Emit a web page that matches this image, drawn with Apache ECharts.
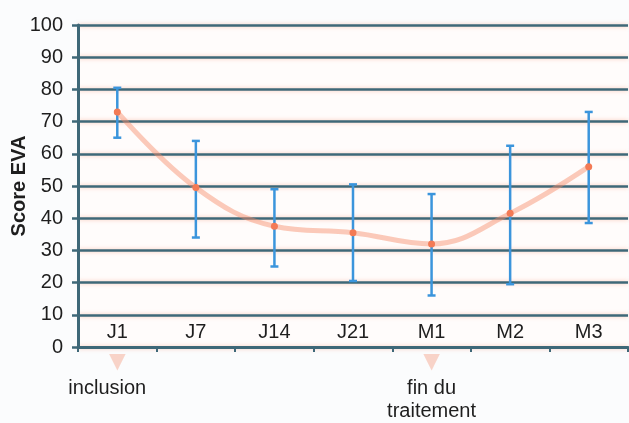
<!DOCTYPE html>
<html>
<head>
<meta charset="utf-8">
<script src="https://cdn.jsdelivr.net/npm/echarts@6/dist/echarts.min.js"></script>
<style>
  html, body { margin: 0; padding: 0; background: #fbfcfd; }
  #chart { width: 629px; height: 423px; }
</style>
</head>
<body>
<div id="chart"></div>
<script>
// valeurs
const categories = ['J1', 'J7', 'J14', 'J21', 'M1', 'M2', 'M3'];
const means = [73, 49.5, 37.5, 35.5, 32, 41.5, 56];
const lows = [65, 34, 25, 20.5, 16, 19.5, 38.5];
const highs = [80.5, 64, 49, 50.5, 47.5, 62.5, 73];
const milestones = ['inclusion', '', '', '', 'fin du\ntraitement', '', ''];

const chart = echarts.init(document.getElementById('chart'));

// barres d'erreur (low/high)
const errData = categories.map((c, i) => [i, lows[i], highs[i]]);

const txt = { fontFamily: 'Liberation Sans', fontSize: 20, color: '#1e1e1e' };

const option = {
  backgroundColor: '#fbfcfd',
  animation: false,
  grid: {
    left: 78, right: 1, top: 25, bottom: 76,
    containLabel: false, outerBoundsMode: 'none',
    show: true, backgroundColor: '#fffcfb', borderWidth: 0
  },
  xAxis: [
    {
      type: 'category',
      data: categories,
      boundaryGap: true,
      axisLine: { lineStyle: { color: '#3e6878', width: 3 } },
      axisTick: { show: true, length: 5, lineStyle: { color: '#3e6878', width: 2 } },
      axisLabel: Object.assign({ inside: true, margin: 5 }, txt),
      splitLine: { show: false }
    },
    {
      type: 'category',
      data: milestones,
      position: 'bottom',
      axisLine: { show: false },
      axisTick: { show: false },
      axisLabel: {
        interval: 0, margin: 0,
        formatter: (v, i) => {
          if (!v) return '';
          const st = i === 0 ? 'ti' : 't';
          return '{arr|▼}\n' + v.split('\n').map(s => '{' + st + '|' + s + '}').join('\n');
        },
        rich: {
          arr: { fontSize: 28, color: 'rgba(246,150,120,0.4)', lineHeight: 30 },
          t: Object.assign({ lineHeight: 23 }, txt),
          ti: Object.assign({ lineHeight: 23, padding: [0, 20, 0, 0] }, txt)
        }
      }
    }
  ],
  yAxis: {
    type: 'value',
    min: 0, max: 100, interval: 10,
    name: 'Score EVA',
    nameLocation: 'middle',
    nameGap: 49,
    nameMoveOverlap: false,
    nameTextStyle: { fontFamily: 'Liberation Sans', fontSize: 20, fontWeight: 'bold', color: '#1e1e1e' },
    axisLine: { show: true, lineStyle: { color: '#3e6878', width: 3 } },
    axisTick: { show: true, length: 6, lineStyle: { color: '#3e6878', width: 2.5 } },
    axisLabel: Object.assign({ margin: 15 }, txt),
    splitLine: {
      lineStyle: {
        color: '#3e6878', width: 2.5,
        shadowColor: 'rgba(248,150,115,0.5)', shadowBlur: 4
      }
    }
  },
  series: [
    {
      type: 'custom',
      data: errData,
      z: 3,
      renderItem: (params, api) => {
        const x = api.value(0);
        const lo = api.coord([x, api.value(1)]);
        const hi = api.coord([x, api.value(2)]);
        const cap = 4;
        const style = { stroke: '#3b95dc', lineWidth: 2.5 };
        return {
          type: 'group',
          children: [
            { type: 'line', shape: { x1: lo[0], y1: lo[1], x2: hi[0], y2: hi[1] }, style: style },
            { type: 'line', shape: { x1: lo[0] - cap, y1: lo[1], x2: lo[0] + cap, y2: lo[1] }, style: style },
            { type: 'line', shape: { x1: hi[0] - cap, y1: hi[1], x2: hi[0] + cap, y2: hi[1] }, style: style }
          ]
        };
      }
    },
    {
      type: 'line',
      data: means,
      smooth: 0.4,
      z: 4,
      symbol: 'circle',
      symbolSize: 7,
      lineStyle: { color: 'rgba(246,140,105,0.45)', width: 5 },
      itemStyle: { color: '#f37a55' }
    }
  ]
};

chart.setOption(option);
</script>
</body>
</html>
